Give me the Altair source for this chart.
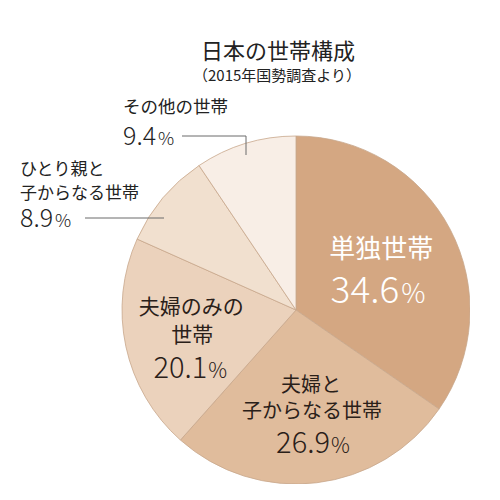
import math
import altair as alt
import pandas as pd

# ---- data ----
categories = ["単独世帯", "夫婦と子からなる世帯", "夫婦のみの世帯", "ひとり親と子からなる世帯", "その他の世帯"]
values = [34.6, 26.9, 20.1, 8.9, 9.4]
line1 = ["単独世帯", "夫婦と", "夫婦のみの", "ひとり親と", "その他の世帯"]
line2 = ["", "子からなる世帯", "世帯", "子からなる世帯", ""]
colors = ["#d4a782", "#e0bc9c", "#ebd2bc", "#f1e0cf", "#f8eee6"]
title_text = "日本の世帯構成"
subtitle_text = "（2015年国勢調査より）"

df = pd.DataFrame({
    "category": categories,
    "value": values,
    "order": list(range(len(categories))),
    "line1": line1,
    "line2": line2,
})

FONT = "Noto Sans CJK JP"
W_TEXT = 400
W_NUM = 300
DARK = "#2a2019"

base = (
    alt.Chart(df)
    .transform_joinaggregate(total="sum(value)")
    .transform_window(cum="sum(value)", sort=[alt.SortField("order")])
    .transform_calculate(
        t0="(datum.cum - datum.value) / datum.total",
        t1="datum.cum / datum.total",
        mid="(datum.cum - datum.value / 2) / datum.total",
    )
)
theta_scale = alt.Scale(domain=[0, 1], range=[0, 2 * math.pi])

pie = base.mark_arc(outerRadius=174, stroke="#c8a78b", strokeWidth=0.8).encode(
    theta=alt.Theta("t0:Q", scale=theta_scale),
    theta2="t1:Q",
    color=alt.Color("category:N", scale=alt.Scale(domain=categories, range=colors), legend=None),
)


def inner(cat, r, text, dx, dy, size, color, align="center", baseline="middle", weight=W_TEXT):
    return base.transform_filter(alt.datum.category == cat).mark_text(
        radius=r, dx=dx, dy=dy, fontSize=size, font=FONT, fontWeight=weight,
        color=color, align=align, baseline=baseline,
    ).encode(theta=alt.Theta("mid:Q", scale=theta_scale), text=text)


def outer(cat, x, y, text, size, align="left", baseline="middle", color="#222222", weight=W_TEXT):
    return base.transform_filter(alt.datum.category == cat).mark_text(
        fontSize=size, font=FONT, fontWeight=weight, color=color, align=align, baseline=baseline,
    ).encode(x=alt.value(x), y=alt.value(y), text=text)


def leader(cat, x, x2, y, y2):
    return base.transform_filter(alt.datum.category == cat).mark_rule(
        color="#6b6b6b", strokeWidth=1
    ).encode(x=alt.value(x), x2=alt.value(x2), y=alt.value(y), y2=alt.value(y2))


num = alt.Text("value:Q", format=".1f")
pct = alt.value("%")
c0, c1, c2, c3, c4 = categories
A = "alphabetic"

layers = [pie]
# 単独世帯
layers += [
    inner(c0, 94, alt.Text("line1:N"), 2, -16, 26, "white"),
    inner(c0, 94, num, 20, 37, 37, "white", align="right", baseline=A, weight=W_NUM),
    inner(c0, 94, pct, 22, 37, 27, "white", align="left", baseline=A, weight=W_NUM),
]
# 夫婦と子からなる世帯
layers += [
    inner(c1, 100, alt.Text("line1:N"), 3, -23.5, 20, DARK),
    inner(c1, 100, alt.Text("line2:N"), 4, 3, 20, DARK),
    inner(c1, 100, num, 22, 44, 29, DARK, align="right", baseline=A, weight=W_NUM),
    inner(c1, 100, pct, 23, 44, 21, DARK, align="left", baseline=A, weight=W_NUM),
]
# 夫婦のみの世帯
layers += [
    inner(c2, 100, alt.Text("line1:N"), -7, -23, 21, DARK),
    inner(c2, 100, alt.Text("line2:N"), -6, 5, 21, DARK),
    inner(c2, 100, num, 9, 47, 29, DARK, align="right", baseline=A, weight=W_NUM),
    inner(c2, 100, pct, 10, 47, 21, DARK, align="left", baseline=A, weight=W_NUM),
]
# ひとり親と子からなる世帯 (outside)
layers += [
    outer(c3, -102, 33.5, alt.Text("line1:N"), 17),
    outer(c3, -102, 58, alt.Text("line2:N"), 17),
    outer(c3, -102, 91, num, 25, baseline=A, weight=W_NUM),
    outer(c3, -67, 91, pct, 18, baseline=A, weight=W_NUM),
    leader(c3, -37, 42, 82, 82),
]
# その他の世帯 (outside)
layers += [
    outer(c4, 1, -28, alt.Text("line1:N"), 17.5),
    outer(c4, 1, 9, num, 25, baseline=A, weight=W_NUM),
    outer(c4, 36, 9, pct, 18, baseline=A, weight=W_NUM),
    leader(c4, 60, 124, 0, 0),
    leader(c4, 124, 124, 0, 19),
]

titles = pd.DataFrame({"t": [title_text], "s": [subtitle_text]})
layers += [
    alt.Chart(titles).mark_text(fontSize=22, font=FONT, fontWeight=W_TEXT, color="#222222", baseline="middle")
    .encode(x=alt.value(156), y=alt.value(-84), text="t:N"),
    alt.Chart(titles).mark_text(fontSize=15, font=FONT, fontWeight=W_TEXT, color="#222222", baseline="middle")
    .encode(x=alt.value(155), y=alt.value(-60), text="s:N"),
]

chart = (
    alt.layer(*layers)
    .properties(
        width=348,
        height=348,
        padding={"left": 114, "top": 128, "right": 0, "bottom": 0},
        autosize=alt.AutoSizeParams(type="none"),
    )
    .configure_view(stroke=None)
)

chart.save("out.html", embed_options={"renderer": "svg", "actions": False})
